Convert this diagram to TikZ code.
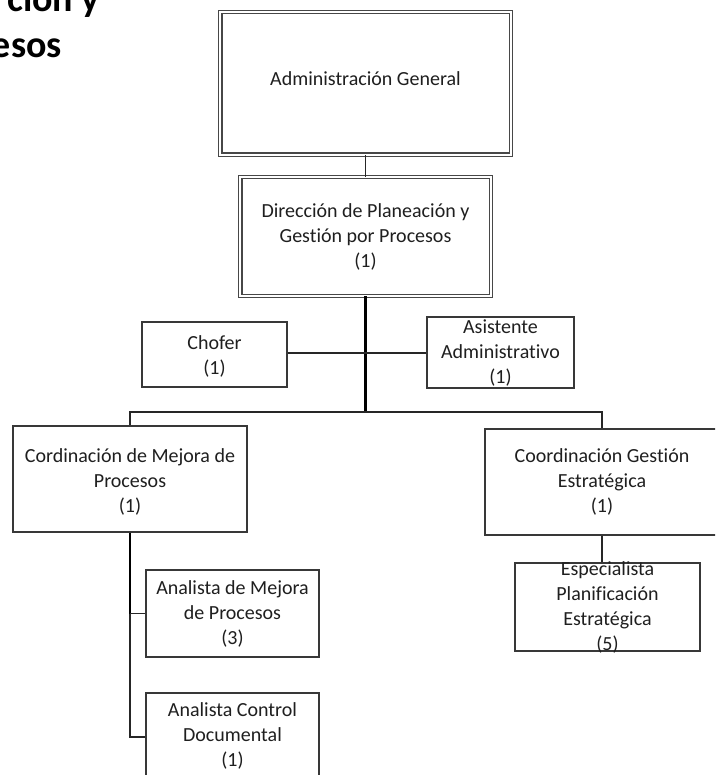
\documentclass[tikz,border=0pt]{standalone}
\usepackage{fontspec}
\setmainfont[Ligatures={NoCommon}]{Carlito}
\begin{document}
\begin{tikzpicture}[x=1pt,y=-1pt,
  box/.style={draw=black!78, line width=1.3pt, fill=white, inner sep=0pt},
  dbox/.style={draw=black!72, line width=1.1pt, double=white, double distance=2.2pt, fill=white, inner sep=0pt},
  lbl/.style={align=center, inner sep=0pt, text=black!88, font=\fontsize{20}{25}\selectfont},
  heading/.style={inner sep=0pt, text=black, font=\fontsize{38}{45}\selectfont\bfseries},
  link/.style={draw=black!85, line width=1.4pt},
  trunk/.style={draw=black, line width=2.2pt}]
\useasboundingbox (0,0) rectangle (715,775);
\clip (0,0) rectangle (715,775);

% page heading, running off the top left corner
\node[heading, anchor=base east] (h1) at (100,12) {ción y};
\node[heading, anchor=base east] (h2) at (62,58) {esos};

% boxes
\node[dbox, minimum width=290.4pt, minimum height=142.4pt] (gen) at (365.5,83.5) {};
\node[dbox, minimum width=250.4pt, minimum height=118.4pt] (dir) at (365.5,236.5) {};
\node[box, minimum width=145pt, minimum height=65pt] (cho) at (214.5,354.5) {};
\node[box, minimum width=147pt, minimum height=71pt] (asi) at (500.5,352.5) {};
\node[box, minimum width=234pt, minimum height=106pt] (cmp) at (130,479) {};
\node[box, minimum width=234pt, minimum height=106pt] (cge) at (602,482) {};
\node[box, minimum width=185pt, minimum height=88pt] (esp) at (607.5,607) {};
\node[box, minimum width=173pt, minimum height=87pt] (amp) at (232.5,613.5) {};
\node[box, minimum width=173pt, minimum height=88pt] (acd) at (232.5,737) {};

% labels
\node[lbl] (genT) at (365.5,79) {Administración General};
\node[lbl] (dirT) at (365.5,237) {Dirección de Planeación y\\Gestión por Procesos\\(1)};
\node[lbl] (choT) at (214.5,356) {Chofer\\(1)};
\node[lbl] (asiT) at (500.5,353) {Asistente\\Administrativo\\(1)};
\node[lbl] (cmpT) at (130,482) {Cordinación de Mejora de\\Procesos\\(1)};
\node[lbl] (cgeT) at (602,482) {Coordinación Gestión\\Estratégica\\(1)};
\node[lbl] (espT) at (607.5,607.5) {Especialista\\Planificación\\Estratégica\\(5)};
\node[lbl] (ampT) at (232.5,614) {Analista de Mejora\\de Procesos\\(3)};
\node[lbl] (acdT) at (232.5,736) {Analista Control\\Documental\\(1)};

% connectors
\coordinate (bus) at (365.5,412);
\draw[link] (gen.south) -- (dir.north);
\draw[trunk] (dir.south) -- (bus);
\draw[link] (cho.east |- 0,353) -- (bus |- 0,353) -- (asi.west |- 0,353);
\draw[link] (cmp.north) |- (bus) -| (cge.north);
\draw[trunk, line width=1.8pt] (cmp.south) -- (cmp.south |- amp.west);
\draw[link] (cmp.south |- amp.west) -- (amp.west);
\draw[link] (cmp.south |- amp.west) |- (acd.west);
\draw[link] (cge.south) -- (cge.south |- esp.north);
\end{tikzpicture}
\end{document}
